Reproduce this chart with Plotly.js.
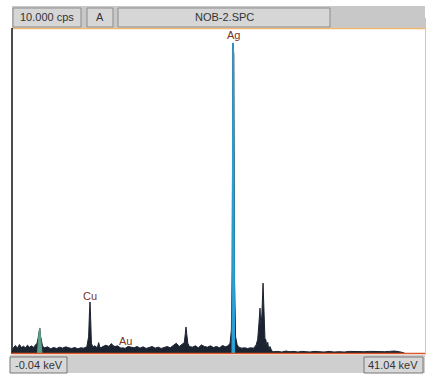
<!DOCTYPE html>
<html>
<head>
<meta charset="utf-8">
<script src="https://cdn.plot.ly/plotly-3.0.1.min.js"></script>
<style>html,body{margin:0;padding:0;background:#fff;}#chart{width:440px;height:376px;}</style>
</head>
<body>
<div id="chart"></div>
<script>
// Energy axis (keV) and counts (cps)
const energyRange = [-0.04, 41.04];
const fullScaleCps = 10000;

// Dark main spectrum
const specKeV = [-0.04,0.1,0.3,0.5,0.7,0.9,1.1,1.3,1.5,1.7,1.9,2.1,2.3,2.45,2.55,2.65,2.72,2.8,2.9,3.0,3.2,3.5,3.8,4.1,4.4,4.7,5.0,5.3,5.6,5.9,6.2,6.5,6.8,7.1,7.4,7.58,7.66,7.72,7.78,7.86,8.0,8.2,8.45,8.58,8.68,8.8,9.0,9.3,9.6,9.85,10.0,10.2,10.45,10.6,10.8,11.0,11.2,11.5,11.8,12.1,12.4,12.7,13.0,13.3,13.6,13.9,14.2,14.5,14.8,15.1,15.4,15.7,16.0,16.3,16.6,16.9,17.1,17.2,17.27,17.35,17.45,17.6,17.9,18.2,18.5,18.8,19.1,19.4,19.7,20.0,20.3,20.6,20.9,21.2,21.45,21.65,21.78,21.86,21.93,22.02,22.1,22.2,22.35,22.5,22.8,23.1,23.4,23.7,24.0,24.25,24.4,24.52,24.63,24.72,24.82,24.93,25.02,25.12,25.22,25.3,25.4,25.5,25.62,25.8,26.0,26.4,26.8,27.2,27.6,28.0,28.4,28.8,29.2,29.6,30.0,30.5,31.0,31.5,32.0,32.5,33.0,33.5,34.0,34.5,35.0,35.5,36.0,36.5,37.0,37.5,38.0,38.5,39.0,39.5,40.0,40.5,41.04];
const specCps = [0,160,230,150,260,170,210,160,240,180,220,170,250,300,450,650,770,520,300,210,160,190,130,170,140,180,150,190,160,140,170,130,160,150,190,500,1200,1570,1100,300,180,220,160,320,200,160,200,240,200,290,230,200,220,180,150,160,140,200,180,160,200,150,190,140,170,200,150,180,140,170,200,160,230,300,200,260,320,600,800,560,300,200,180,220,160,250,200,180,220,170,200,160,230,190,220,300,700,2600,9540,9200,2200,500,260,180,150,160,140,160,150,250,420,900,1380,800,1200,2150,900,450,400,180,330,100,200,60,40,50,30,60,40,50,30,50,40,30,50,40,30,50,30,40,30,50,40,30,40,50,40,50,40,50,60,40,0];

// Green region (about 2.7 keV)
const greenKeV = [2.5,2.58,2.65,2.72,2.78,2.86,2.94];
const greenCps = [0,450,650,770,560,300,0];

// Blue region (Ag peak)
const blueKeV = [21.84,21.88,21.93,22.0,22.05,22.1];
const blueCps = [0,7000,9540,9200,6000,0];

// Peak labels
const peakLabels = ["Ag","Cu","Au"];
const peakLabelKeV = [21.95,7.75,11.2];
const peakLabelCps = [9780,1760,370];

// Header / footer texts
const headerTexts = ["10.000 cps","A","NOB-2.SPC"];
const footerTexts = ["-0.04 keV","41.04 keV"];

// pixel helpers for decoration placement
const L=12, R=425, T=28, B=353;
const px = p => (p-L)/(R-L);
const py = p => (B-p)/(B-T);

const traces = [
  {x:specKeV, y:specCps, type:'scatter', mode:'lines', fill:'tozeroy',
   line:{color:'#1b2230', width:1}, fillcolor:'#1b2230', hoverinfo:'skip'},
  {x:greenKeV, y:greenCps, type:'scatter', mode:'lines', fill:'tozeroy',
   line:{color:'#5a9e86', width:1}, fillcolor:'#5a9e86', hoverinfo:'skip'},
  {x:blueKeV, y:blueCps, type:'scatter', mode:'lines', fill:'tozeroy',
   line:{color:'#2aa2d8', width:1}, fillcolor:'#2aa2d8', hoverinfo:'skip'}
];

const font = {family:'Liberation Sans, Arial, sans-serif', size:11, color:'#333'};

const shapes = [
  // header bar
  {type:'rect', xref:'paper', yref:'paper', x0:px(12), x1:px(425), y0:py(28), y1:py(6), fillcolor:'#c8c8c8', line:{width:0}, layer:'above'},
  {type:'rect', xref:'paper', yref:'paper', x0:px(13), x1:px(81), y0:py(27), y1:py(8), fillcolor:'#d6d6d6', line:{color:'#8c8c8c', width:1}, layer:'above'},
  {type:'rect', xref:'paper', yref:'paper', x0:px(87), x1:px(113), y0:py(27), y1:py(8), fillcolor:'#d6d6d6', line:{color:'#8c8c8c', width:1}, layer:'above'},
  {type:'rect', xref:'paper', yref:'paper', x0:px(118), x1:px(330), y0:py(27), y1:py(8), fillcolor:'#d6d6d6', line:{color:'#8c8c8c', width:1}, layer:'above'},
  {type:'line', xref:'paper', yref:'paper', x0:px(12), x1:px(425), y0:py(28.5), y1:py(28.5), line:{color:'#f0b878', width:1.5}, layer:'above'},
  // footer bar
  {type:'rect', xref:'paper', yref:'paper', x0:px(10), x1:px(425), y0:py(373), y1:py(355), fillcolor:'#cfcfcf', line:{width:0}, layer:'above'},
  {type:'rect', xref:'paper', yref:'paper', x0:px(10), x1:px(67), y0:py(373), y1:py(357), fillcolor:'#d8d8d8', line:{color:'#777', width:1}, layer:'above'},
  {type:'rect', xref:'paper', yref:'paper', x0:px(364), x1:px(423), y0:py(373), y1:py(357), fillcolor:'#d8d8d8', line:{color:'#777', width:1}, layer:'above'},
  // axes frame
  {type:'line', xref:'paper', yref:'paper', x0:px(12), x1:px(12), y0:py(28), y1:py(354), line:{color:'#111', width:1.5}, layer:'above'},
  {type:'line', xref:'paper', yref:'paper', x0:px(425.5), x1:px(425.5), y0:py(18), y1:py(355), line:{color:'#c8c8c8', width:1}, layer:'above'},
  {type:'line', xref:'paper', yref:'paper', x0:px(12), x1:px(425), y0:py(353.5), y1:py(353.5), line:{color:'#d8582a', width:1.5}, layer:'above'}
];

const annotations = [
  {text:headerTexts[0], xref:'paper', yref:'paper', x:px(47), y:py(17.5), showarrow:false, font:font, xanchor:'center', yanchor:'middle'},
  {text:headerTexts[1], xref:'paper', yref:'paper', x:px(100), y:py(17.5), showarrow:false, font:font, xanchor:'center', yanchor:'middle'},
  {text:headerTexts[2], xref:'paper', yref:'paper', x:px(224), y:py(17.5), showarrow:false, font:font, xanchor:'center', yanchor:'middle'},
  {text:footerTexts[0], xref:'paper', yref:'paper', x:px(39), y:py(365), showarrow:false, font:font, xanchor:'center', yanchor:'middle'},
  {text:footerTexts[1], xref:'paper', yref:'paper', x:px(393), y:py(365), showarrow:false, font:font, xanchor:'center', yanchor:'middle'}
];
peakLabels.forEach((t,i)=>{
  annotations.push({text:t, x:peakLabelKeV[i], y:peakLabelCps[i], xref:'x', yref:'y', showarrow:false,
    font:{family:'Liberation Sans, Arial, sans-serif', size:11, color:'#7a3328'}, xanchor:'center', yanchor:'middle'});
});

const layout = {
  width:440, height:376,
  margin:{l:L, r:440-R, t:T, b:376-B, pad:0},
  paper_bgcolor:'#ffffff', plot_bgcolor:'#ffffff',
  showlegend:false,
  xaxis:{range:energyRange, visible:false, showgrid:false, zeroline:false, fixedrange:true},
  yaxis:{range:[0, fullScaleCps], visible:false, showgrid:false, zeroline:false, fixedrange:true},
  shapes:shapes, annotations:annotations
};

Plotly.newPlot('chart', traces, layout, {staticPlot:true, displayModeBar:false});
</script>
</body>
</html>
